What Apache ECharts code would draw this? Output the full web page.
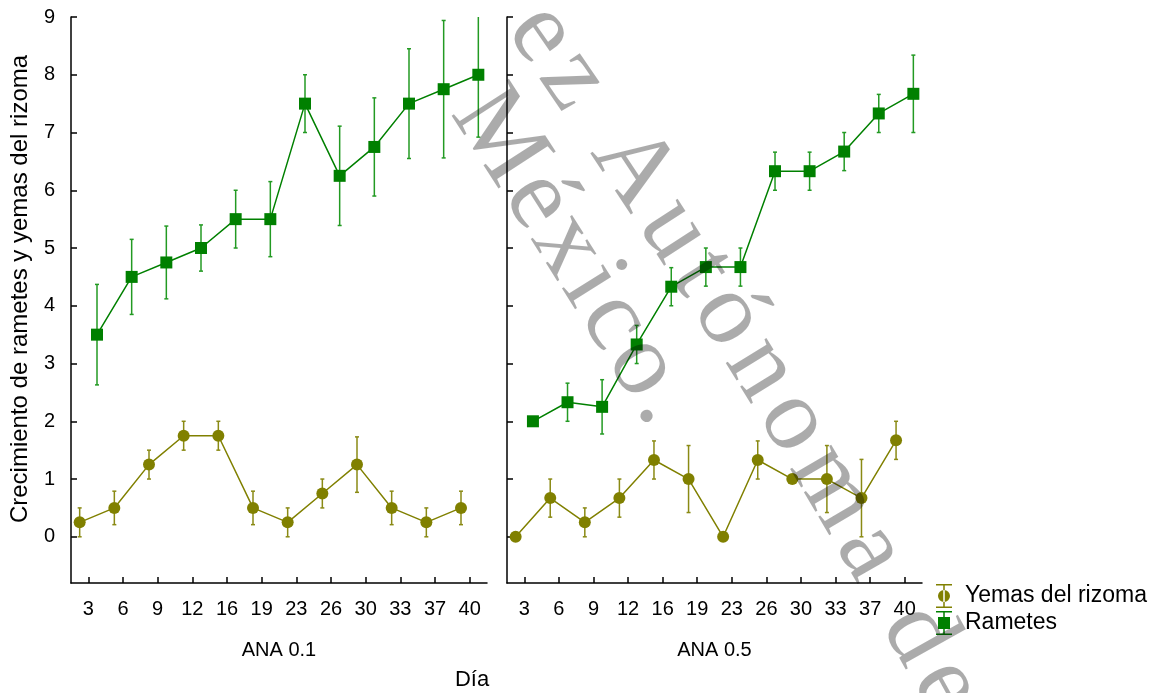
<!DOCTYPE html>
<html>
<head>
<meta charset="utf-8">
<script src="https://cdn.jsdelivr.net/npm/echarts@6/dist/echarts.min.js"></script>
<style>
  html, body { margin: 0; padding: 0; background: #fff; }
  #chart { width: 1153px; height: 693px; }
</style>
</head>
<body>
<div id="chart"></div>
<script>
// Days of measurement (x categories)
const days = ['3', '6', '9', '12', '16', '19', '23', '26', '30', '33', '37', '40'];
const yTicks = [0, 1, 2, 3, 4, 5, 6, 7, 8, 9];

// ANA 0.1
const yemas01 = [0.25, 0.5, 1.25, 1.75, 1.75, 0.5, 0.25, 0.75, 1.25, 0.5, 0.25, 0.5];
const yemas01Err = [0.25, 0.29, 0.25, 0.25, 0.25, 0.29, 0.25, 0.25, 0.48, 0.29, 0.25, 0.29];
const rametes01 = [3.5, 4.5, 4.75, 5.0, 5.5, 5.5, 7.5, 6.25, 6.75, 7.5, 7.75, 8.0];
const rametes01Err = [0.87, 0.65, 0.63, 0.4, 0.5, 0.65, 0.5, 0.86, 0.85, 0.95, 1.19, 1.08];

// ANA 0.5
const yemas05 = [0, 0.67, 0.25, 0.67, 1.33, 1.0, 0, 1.33, 1.0, 1.0, 0.67, 1.67];
const yemas05Err = [0, 0.33, 0.25, 0.33, 0.33, 0.58, 0, 0.33, 0, 0.58, 0.67, 0.33];
const rametes05 = [2.0, 2.33, 2.25, 3.33, 4.33, 4.67, 4.67, 6.33, 6.33, 6.67, 7.33, 7.67];
const rametes05Err = [0, 0.33, 0.47, 0.33, 0.33, 0.33, 0.33, 0.33, 0.33, 0.33, 0.33, 0.67];

const OLIVE = '#808000';
const OLIVE_BAR = '#8a8a14';
const GREEN = '#008000';
const GREEN_BAR = '#239a23';
const FONT = 'Liberation Sans, Arial, sans-serif';

// side-by-side dodge of the two groups within each day slot
const DODGE = 0.25;

function toPoints(values, shift) {
  return values.map((v, i) => [i + 1 + shift, v]);
}
function toBars(values, errs, shift) {
  return values.map((v, i) => [i + 1 + shift, v, errs[i]]);
}

function errorBarRenderer(color) {
  return function (params, api) {
    const x = api.value(0), y = api.value(1), e = api.value(2);
    if (!e) return null;
    const top = api.coord([x, y + e]);
    const bot = api.coord([x, y - e]);
    const cap = 2;
    const style = { stroke: color, lineWidth: 1.5 };
    return {
      type: 'group',
      children: [
        { type: 'line', shape: { x1: top[0], y1: top[1], x2: bot[0], y2: bot[1] }, style },
        { type: 'line', shape: { x1: top[0] - cap, y1: top[1], x2: top[0] + cap, y2: top[1] }, style },
        { type: 'line', shape: { x1: bot[0] - cap, y1: bot[1], x2: bot[0] + cap, y2: bot[1] }, style }
      ]
    };
  };
}

function xAxisFor(gridIndex, name) {
  return {
    type: 'value', gridIndex, min: 0.5, max: 12.5,
    name, nameLocation: 'middle', nameGap: 57,
    nameTextStyle: { fontFamily: FONT, fontSize: 20, color: '#000' },
    axisLine: { onZero: false, lineStyle: { color: '#000', width: 1.5 } },
    axisTick: { inside: true, length: 6, customValues: days.map((d, i) => i + 1), lineStyle: { color: '#000', width: 1.5 } },
    axisLabel: {
      customValues: days.map((d, i) => i + 1),
      formatter: v => days[Math.round(v) - 1],
      margin: 16, fontFamily: FONT, fontSize: 20, color: '#000'
    },
    splitLine: { show: false }
  };
}

function yAxisFor(gridIndex, showLabels) {
  return {
    type: 'value', gridIndex, min: -0.8, max: 9,
    axisLine: { show: true, onZero: false, lineStyle: { color: '#000', width: 1.5 } },
    axisTick: { show: true, inside: true, length: 6, customValues: yTicks, lineStyle: { color: '#000', width: 1.5 } },
    axisLabel: {
      show: showLabels, customValues: yTicks,
      margin: 16, fontFamily: FONT, fontSize: 20, color: '#000'
    },
    splitLine: { show: false }
  };
}

function lineSeries(name, idx, values, shift, symbol, color) {
  return {
    type: 'line', name, xAxisIndex: idx, yAxisIndex: idx,
    data: toPoints(values, shift),
    symbol, symbolSize: 12, showSymbol: true,
    itemStyle: { color, opacity: 1 },
    lineStyle: { color, width: 1.5 },
    z: 3, silent: true, emphasis: { disabled: true }
  };
}

function barSeries(idx, values, errs, shift, color) {
  return {
    type: 'custom', xAxisIndex: idx, yAxisIndex: idx,
    data: toBars(values, errs, shift),
    encode: { x: 0, y: 1 },
    renderItem: errorBarRenderer(color),
    clip: true, z: 2, silent: true
  };
}

// legend glyphs: a capped error bar with the group's marker on it
const ICON_CIRCLE = 'path://M0,0H16V1.5H0Z M7.25,0H8.75V24H7.25Z M0,22.5H16V24H0Z M2,12A6,6 0 1,0 14,12A6,6 0 1,0 2,12Z';
const ICON_SQUARE = 'path://M0,0H16V1.5H0Z M7.25,0H8.75V24H7.25Z M0,22.5H16V24H0Z M2,6H14V18H2Z';

// Translucent watermark: each character is laid along a gently bending baseline.
const measureCtx = document.createElement('canvas').getContext('2d');
function wmLine(text, x0, y0, angle0, bend, size, track) {
  const font = size + 'px "Liberation Serif", "Times New Roman", serif';
  measureCtx.font = font;
  const out = [];
  let x = x0, y = y0, s = 0;
  for (const ch of text) {
    const w = measureCtx.measureText(ch).width;
    const th = (angle0 + bend * (s + w / 2)) * Math.PI / 180;
    const dx = Math.cos(th), dy = Math.sin(th);
    const ux = Math.sin(th), uy = -Math.cos(th);
    const lift = 0.33 * size;
    if (ch !== ' ') {
      out.push({
        type: 'text', z: 100, silent: true,
        x: x + dx * w / 2 + ux * lift, y: y + dy * w / 2 + uy * lift,
        rotation: -th,
        style: { text: ch, font, fill: 'rgba(0,0,0,0.33)', align: 'center', verticalAlign: 'middle' }
      });
    }
    x += dx * (w + track);
    y += dy * (w + track);
    s += w + track;
  }
  return out;
}

const chart = echarts.init(document.getElementById('chart'), null, { renderer: 'canvas' });
chart.setOption({
  animation: false,
  backgroundColor: '#fff',
  grid: [
    { left: 71, top: 17, width: 416, height: 566, outerBoundsMode: 'none' },
    { left: 507, top: 17, width: 415, height: 566, outerBoundsMode: 'none' }
  ],
  xAxis: [xAxisFor(0, 'ANA 0.1'), xAxisFor(1, 'ANA 0.5')],
  yAxis: [yAxisFor(0, true), yAxisFor(1, false)],
  legend: {
    orient: 'vertical', left: 936, top: 584, padding: 0,
    itemWidth: 16, itemHeight: 24, itemGap: 3,
    textStyle: { fontFamily: FONT, fontSize: 23, color: '#000', padding: [0, 0, 0, 8] },
    data: [
      { name: 'Yemas del rizoma', icon: ICON_CIRCLE },
      { name: 'Rametes', icon: ICON_SQUARE }
    ],
    selectedMode: false
  },
  series: [
    barSeries(0, yemas01, yemas01Err, -DODGE, OLIVE_BAR),
    barSeries(0, rametes01, rametes01Err, DODGE, GREEN_BAR),
    barSeries(1, yemas05, yemas05Err, -DODGE, OLIVE_BAR),
    barSeries(1, rametes05, rametes05Err, DODGE, GREEN_BAR),
    lineSeries('Yemas del rizoma', 0, yemas01, -DODGE, 'circle', OLIVE),
    lineSeries('Rametes', 0, rametes01, DODGE, 'rect', GREEN),
    lineSeries('Yemas del rizoma', 1, yemas05, -DODGE, 'circle', OLIVE),
    lineSeries('Rametes', 1, rametes05, DODGE, 'rect', GREEN)
  ],
  graphic: [
    {
      type: 'text', silent: true, x: 20, y: 289, rotation: Math.PI / 2,
      style: { text: 'Crecimiento de rametes y yemas del rizoma', font: '24px ' + FONT, fill: '#000', align: 'center', verticalAlign: 'middle' }
    },
    {
      type: 'text', silent: true, x: 472, y: 680,
      style: { text: 'Día', font: '22px ' + FONT, fill: '#000', align: 'center', verticalAlign: 'middle' }
    },
    ...wmLine('ez Autónoma de T', 500, 34, 55, 0.008, 104, 10),
    ...wmLine('México.', 444, 117, 57, 0.004, 104, 5)
  ]
});
</script>
</body>
</html>
